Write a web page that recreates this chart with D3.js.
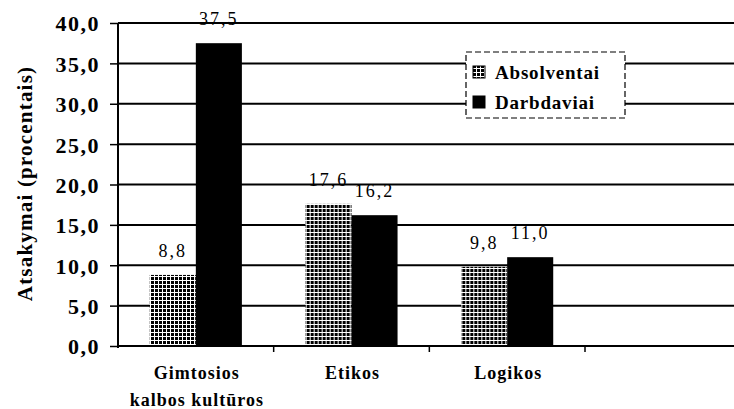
<!DOCTYPE html>
<html><head><meta charset="utf-8">
<script src="https://cdn.jsdelivr.net/npm/d3@7"></script>
<style>html,body{margin:0;padding:0;background:#fff;}svg{display:block;}</style>
</head><body>
<svg id="c" width="734" height="409" font-family="Liberation Serif"></svg>
<script>
const categories = ["Gimtosios|kalbos kultūros", "Etikos", "Logikos"];
const seriesNames = ["Absolventai", "Darbdaviai"];
const absolventai = [8.8, 17.6, 9.8];
const darbdaviai = [37.5, 16.2, 11.0];
const yTicks = [0, 5, 10, 15, 20, 25, 30, 35, 40];
const axisTitle = "Atsakymai (procentais)";

const FF = "Liberation Serif";
const svg = d3.select("#c");
const x0 = 118, x1 = 585, right = 734, yTop = 23, yBot = 346;

const x = d3.scaleBand().domain(categories).range([x0, x1]).paddingInner(0).paddingOuter(0);
const xs = d3.scaleBand().domain(seriesNames).range([0, x.bandwidth()]).paddingInner(0).paddingOuter(0.69);
const y = d3.scaleLinear().domain([0, 40]).range([yBot, yTop]);
const fmt = v => v.toFixed(1).replace(".", ",");

// pattern
const defs = svg.append("defs");
const pat = defs.append("pattern").attr("id", "grid").attr("patternUnits", "userSpaceOnUse")
  .attr("width", 4).attr("height", 4);
pat.append("rect").attr("width", 4).attr("height", 4).attr("fill", "#000");
pat.append("rect").attr("x", 0).attr("y", 0).attr("width", 1).attr("height", 4).attr("fill", "#fff");
pat.append("rect").attr("x", 0).attr("y", 0).attr("width", 4).attr("height", 1).attr("fill", "#fff");

// gridlines
svg.append("g").selectAll("line").data(yTicks).join("line")
  .attr("x1", x0).attr("x2", right).attr("y1", d => y(d)).attr("y2", d => y(d))
  .attr("stroke", "#000").attr("stroke-width", 2);

// y axis
const yAxis = d3.axisLeft(y).tickValues(yTicks).tickSize(8).tickFormat(fmt);
const gy = svg.append("g").attr("transform", `translate(${x0},0)`).call(yAxis);
gy.attr("font-family", FF).attr("font-size", 22).attr("font-weight", "bold");
gy.select(".domain").attr("stroke", "#000").attr("stroke-width", 2).attr("d", `M0,${yTop}V${yBot + 2}`);
gy.selectAll(".tick line").attr("stroke", "#000").attr("stroke-width", 1.5);
gy.selectAll(".tick text").attr("x", -18).attr("dy", "0.36em")
  .attr("font-family", FF).attr("font-weight", "bold").attr("font-size", 22)
  .attr("letter-spacing", 1.5).attr("fill", "#000");

// x axis ticks at band boundaries
const bounds = categories.map(c => x(c) + x.bandwidth());
svg.append("g").selectAll("line").data(bounds).join("line")
  .attr("x1", d => d).attr("x2", d => d).attr("y1", yBot).attr("y2", yBot + 6)
  .attr("stroke", "#000").attr("stroke-width", 1.5);

// category labels
const catG = svg.append("g");
categories.forEach(c => {
  const lines = c.split("|");
  const cx = x(c) + x.bandwidth() / 2 + 1;
  lines.forEach((ln, i) => {
    catG.append("text").attr("x", cx).attr("y", 379 + i * 27)
      .attr("text-anchor", "middle").attr("font-family", FF)
      .attr("font-weight", "bold").attr("font-size", 18)
      .attr("letter-spacing", 1).text(ln);
  });
});

// bars
const data = categories.map((c, i) => ({ c, vals: [absolventai[i], darbdaviai[i]] }));
const groups = svg.append("g").selectAll("g").data(data).join("g")
  .attr("transform", d => `translate(${x(d.c)},0)`);
groups.selectAll("rect").data(d => d.vals.map((v, j) => ({ v, s: seriesNames[j] })))
  .join("rect")
  .attr("x", d => xs(d.s)).attr("width", xs.bandwidth())
  .attr("y", d => y(d.v)).attr("height", d => yBot - y(d.v))
  .attr("fill", d => d.s === "Absolventai" ? "url(#grid)" : "#000");
groups.selectAll("text").data(d => d.vals.map((v, j) => ({ v, s: seriesNames[j] })))
  .join("text")
  .attr("x", d => xs(d.s) + xs.bandwidth() / 2).attr("y", d => y(d.v) - 18)
  .attr("text-anchor", "middle").attr("font-family", FF).attr("font-size", 18)
  .attr("letter-spacing", 2).text(d => fmt(d.v));

// x baseline
svg.append("line").attr("x1", x0).attr("x2", right).attr("y1", yBot).attr("y2", yBot)
  .attr("stroke", "#000").attr("stroke-width", 2);

// y title
svg.append("text").attr("transform", `translate(32,${(47 + 320) / 2}) rotate(-90)`)
  .attr("text-anchor", "middle").attr("font-family", FF).attr("font-weight", "bold")
  .attr("font-size", 21).attr("letter-spacing", 1.2)
  .text(axisTitle);

// legend
const lg = svg.append("g");
lg.append("rect").attr("x", 466).attr("y", 52).attr("width", 159).attr("height", 66)
  .attr("fill", "#fff").attr("stroke", "#000").attr("stroke-width", 1.2).attr("stroke-dasharray", "6,3");
seriesNames.forEach((s, i) => {
  const cy = 72 + i * 30;
  lg.append("rect").attr("x", 473).attr("y", cy - 6).attr("width", 12).attr("height", 12)
    .attr("fill", i === 0 ? "url(#grid)" : "#000").attr("stroke", "#000").attr("stroke-width", 1);
  lg.append("text").attr("x", 495).attr("y", cy).attr("dy", "0.35em")
    .attr("font-family", FF).attr("font-weight", "bold").attr("font-size", 19)
    .attr("letter-spacing", 0.8).text(s);
});
</script>
</body></html>
